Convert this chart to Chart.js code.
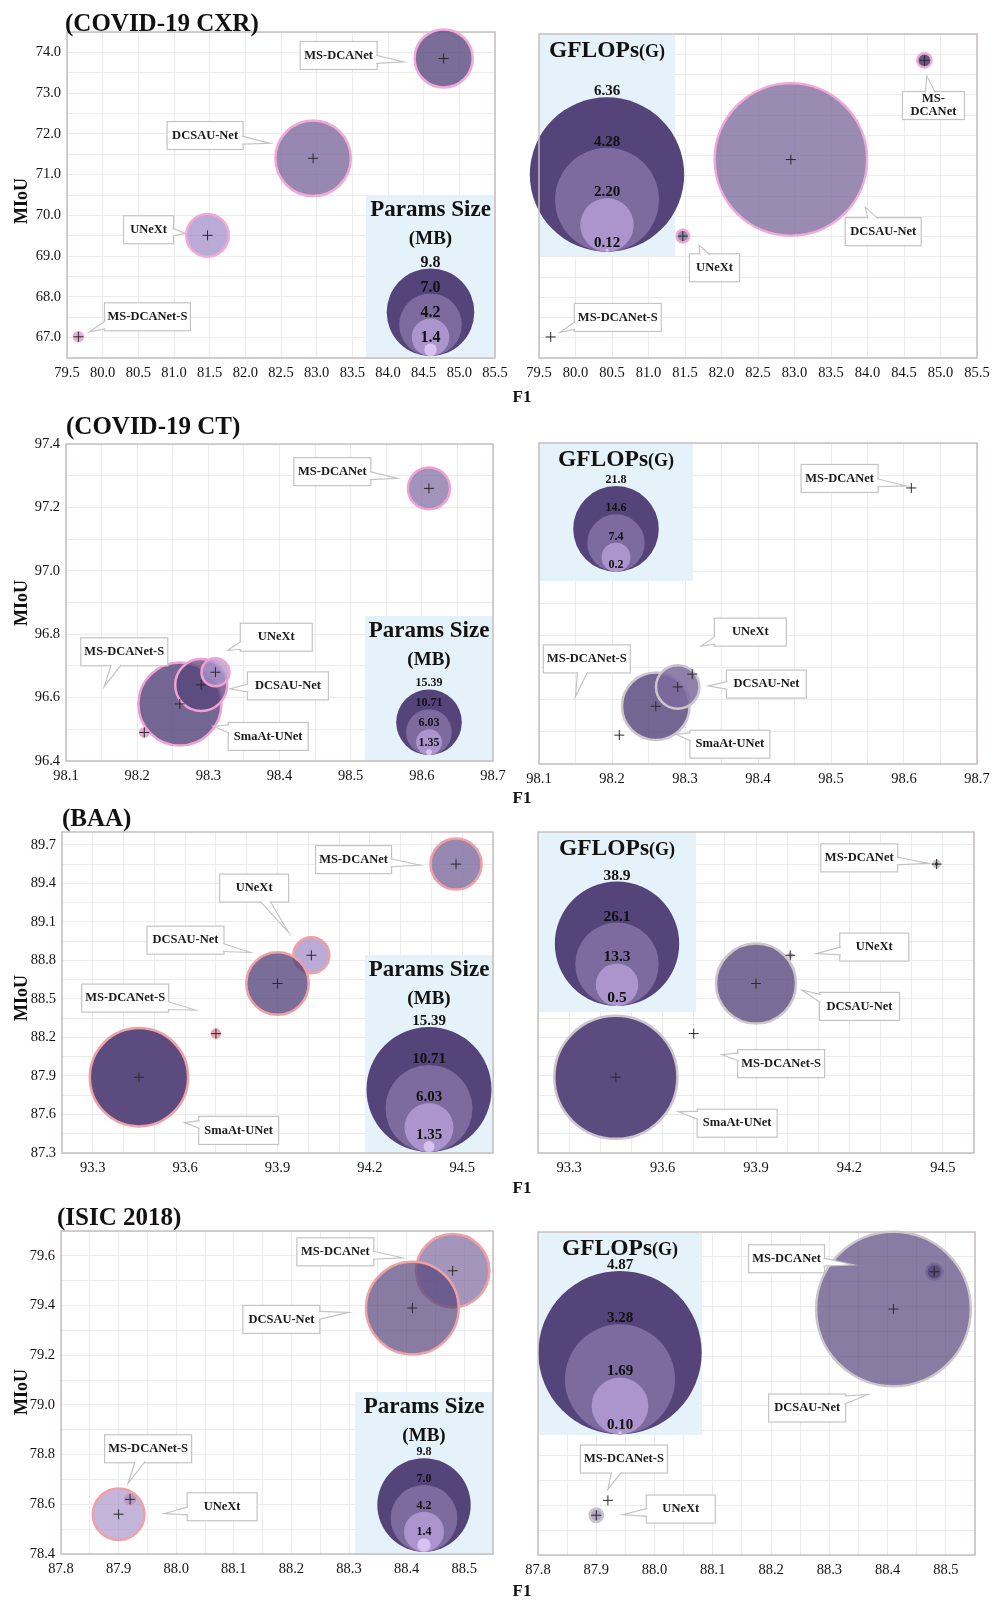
<!DOCTYPE html>
<html>
<head>
<meta charset="utf-8">
<script src="https://cdn.jsdelivr.net/npm/chart.js@4.4.1/dist/chart.umd.min.js"></script>
<style>
  body { margin: 0; background: #fff; }
  #page { position: relative; width: 1000px; height: 1600px; font-family: 'Liberation Serif', 'Times New Roman', serif; }
  canvas { position: absolute; }
  .t { position: absolute; font-weight: bold; color: #111; white-space: nowrap; line-height: 1; }
  .title { font-size: 25px; transform: translateY(-50%); }
  .miou { font-size: 18px; transform: translate(-50%, -50%) rotate(-90deg); left: 21px; }
  .f1 { font-size: 17px; transform: translate(-50%, -50%); left: 522px; }
</style>
</head>
<body>
<div id="page">
  <div class="t title" style="left:65px;top:22px">(COVID-19 CXR)</div>
  <div class="t title" style="left:66px;top:425px">(COVID-19 CT)</div>
  <div class="t title" style="left:62px;top:817px">(BAA)</div>
  <div class="t title" style="left:57px;top:1216px">(ISIC 2018)</div>
  <div class="t miou" style="top:201px">MIoU</div>
  <div class="t miou" style="top:603px">MIoU</div>
  <div class="t miou" style="top:998px">MIoU</div>
  <div class="t miou" style="top:1392px">MIoU</div>
  <div class="t f1" style="top:396px">F1</div>
  <div class="t f1" style="top:797px">F1</div>
  <div class="t f1" style="top:1187px">F1</div>
  <div class="t f1" style="top:1590px">F1</div>
</div>
<script>
// ---- COVID-19 CXR ----
const cxrModels = ['MS-DCANet', 'DCSAU-Net', 'UNeXt', 'MS-DCANet-S'];
const cxrF1 = [84.78, 82.95, 81.47, 79.66];
const cxrMIoU = [73.85, 71.40, 69.51, 67.02];
const cxrParams = [6.49, 8.44, 4.77, 1.0];
const cxrGflops = [0.59, 6.28, 0.52, 0];
const cxrParamsLegend = [9.8, 7.0, 4.2, 1.4];
const cxrGflopsLegend = [6.36, 4.28, 2.20, 0.12];
const cxrXTicks = [79.5, 80.0, 80.5, 81.0, 81.5, 82.0, 82.5, 83.0, 83.5, 84.0, 84.5, 85.0, 85.5];
const cxrYTicks = [67.0, 68.0, 69.0, 70.0, 71.0, 72.0, 73.0, 74.0];

// ---- COVID-19 CT ----
const ctModels = ['MS-DCANet', 'MS-DCANet-S', 'SmaAt-UNet', 'DCSAU-Net', 'UNeXt'];
const ctF1 = [98.61, 98.21, 98.26, 98.29, 98.31];
const ctMIoU = [97.26, 96.49, 96.58, 96.64, 96.68];
const ctParams = [9.85, 1.88, 19.47, 12.2, 6.57];
const ctGflops = [0, 0, 17.2, 11.05, 0];
const ctParamsLegend = [15.39, 10.71, 6.03, 1.35];
const ctGflopsLegend = [21.8, 14.6, 7.4, 0.2];
const ctXTicks = [98.1, 98.2, 98.3, 98.4, 98.5, 98.6, 98.7];
const ctYTicks = [96.4, 96.6, 96.8, 97.0, 97.2, 97.4];

// ---- BAA ----
const baaModels = ['MS-DCANet', 'UNeXt', 'DCSAU-Net', 'MS-DCANet-S', 'SmaAt-UNet'];
const baaF1 = [94.48, 94.01, 93.90, 93.70, 93.45];
const baaMIoU = [89.55, 88.84, 88.62, 88.23, 87.89];
const baaParams = [6.28, 4.43, 7.68, 0.98, 12.1];
const baaGflops = [1.9, 1.0, 25.0, 0, 38.5];
const baaParamsLegend = [15.39, 10.71, 6.03, 1.35];
const baaGflopsLegend = [38.9, 26.1, 13.3, 0.5];
const baaXTicks = [93.3, 93.6, 93.9, 94.2, 94.5];
const baaYTicks = [87.3, 87.6, 87.9, 88.2, 88.5, 88.8, 89.1, 89.4, 89.7];

// ---- ISIC 2018 ----
const isicModels = ['MS-DCANet', 'DCSAU-Net', 'MS-DCANet-S', 'UNeXt'];
const isicF1 = [88.48, 88.41, 87.92, 87.90];
const isicMIoU = [79.54, 79.39, 78.62, 78.56];
const isicParams = [7.7, 9.72, 1.05, 5.41];
const isicGflops = [0.48, 4.61, 0, 0.40];
const isicParamsLegend = [9.8, 7.0, 4.2, 1.4];
const isicGflopsLegend = [4.87, 3.28, 1.69, 0.10];
const isicXTicks = [87.8, 87.9, 88.0, 88.1, 88.2, 88.3, 88.4, 88.5];
const isicYTicks = [78.4, 78.6, 78.8, 79.0, 79.2, 79.4, 79.6];

const SERIF = "'Liberation Serif', 'Times New Roman', serif";
const LEGEND_FILLS = ['#55447a', '#7d6a9e', '#ab95cc', '#d8c2f2'];
const dark = a => `rgba(85,68,122,${a})`;
const mid = a => `rgba(125,106,158,${a})`;
const light = a => `rgba(171,149,204,${a})`;
const pinkDot = 'rgba(214,150,205,0.8)';

// callout: [box dx, box dy, tip dx, tip dy, box width, text override]
const panels = [
  {
    left: 0, plot: [67, 32, 495, 358], x: [79.5, 85.5, 0.5, cxrXTicks], y: [66.5, 74.5, 0.5, cxrYTicks], showY: true,
    names: cxrModels, f1: cxrF1, miou: cxrMIoU, size: cxrParams,
    colors: [dark(.78), mid(.8), light(.8), pinkDot], edge: '#f2a8d8',
    legend: { kind: 'params', values: cxrParamsLegend, box: [366, 195, 495, 358], bottom: 356, radius: 43.8, font: 16, dec: 1 },
    callouts: [[-105, -3, -40, 3.4, 77], [-108, -22.8, -43.3, -15, 76], [-59, -5.6, -22.3, -2, 50], [69, -20, 11, -5, 86]]
  },
  {
    left: 515, plot: [539, 34, 977, 358], x: [79.5, 85.5, 0.5, cxrXTicks], y: [66.5, 74.5, 0.5, cxrYTicks], showY: false,
    names: cxrModels, f1: cxrF1, miou: cxrMIoU, size: cxrGflops,
    colors: [dark(.9), mid(.78), mid(.8), mid(.8)], edge: '#f2a8d8',
    legend: { kind: 'gflops', values: cxrGflopsLegend, box: [539, 34, 675, 256], bottom: 251.7, radius: 77.2, font: 15, dec: 2 },
    callouts: [[9, 45.2, 2.4, 15.7, 62, 'MS-\nDCANet'], [92.4, 72.1, 74.4, 47.6, 76], [31.7, 31.7, 16.3, 9.3, 50], [67.1, -19.5, 9.3, -4.6, 87]]
  },
  {
    left: 0, plot: [66, 444, 493, 761], x: [98.1, 98.7, 0.05, ctXTicks], y: [96.4, 97.4, 0.1, ctYTicks], showY: true,
    names: ctModels, f1: ctF1, miou: ctMIoU, size: ctParams,
    colors: [mid(.72), pinkDot, dark(.82), dark(.75), light(.75)], edge: '#f2a0d4',
    legend: { kind: 'params', values: ctParamsLegend, box: [365, 616, 493, 761], bottom: 755, radius: 32.8, font: 12, dec: 2 },
    callouts: [[-96.6, -16.8, -31.6, -10, 77], [-20, -80.7, -40, -46, 87], [88.3, 32.5, 33.3, 22.3, 80], [86.7, 1, 28.7, 4, 81], [60.8, -35, 12.3, -22, 72]]
  },
  {
    left: 515, plot: [539, 443, 977, 764], x: [98.1, 98.7, 0.05, ctXTicks], y: [96.4, 97.4, 0.1, ctYTicks], showY: false,
    names: ctModels, f1: ctF1, miou: ctMIoU, size: ctGflops,
    colors: [dark(.8), dark(.8), dark(.82), mid(.85), mid(.8)], edge: '#cdc4cc',
    legend: { kind: 'gflops', values: ctGflopsLegend, box: [539, 443, 693, 581], bottom: 571.7, radius: 42.8, font: 12, dec: 1 },
    callouts: [[-71.7, -9.5, -5, -2, 77], [-32.5, -76.2, -44, -38, 87], [74.1, 38, 20, 28, 80], [88.7, -2.9, 30.7, -1, 80], [58, -42, 9, -28, 72]]
  },
  {
    left: 0, plot: [62, 832, 493, 1153], x: [93.2, 94.6, 0.1, baaXTicks], y: [87.3, 89.8, 0.15, baaYTicks], showY: true,
    names: baaModels, f1: baaF1, miou: baaMIoU, size: baaParams,
    colors: [mid(.8), light(.8), dark(.78), pinkDot, dark(.96)], edge: '#f0a0a4',
    legend: { kind: 'params', values: baaParamsLegend, box: [365, 955, 493, 1153], bottom: 1152, radius: 62.5, font: 15, dec: 2 },
    callouts: [[-102.5, -4.5, -36, 1, 76], [-57.2, -67.2, -22.7, -22.7, 69], [-92, -43.3, -27, -31, 77], [-90.7, -35.5, -20.7, -23.6, 87], [99.7, 53.2, 45.7, 45.4, 80]]
  },
  {
    left: 515, plot: [538, 832, 974, 1153], x: [93.2, 94.6, 0.1, baaXTicks], y: [87.3, 89.8, 0.15, baaYTicks], showY: false,
    names: baaModels, f1: baaF1, miou: baaMIoU, size: baaGflops,
    colors: [dark(.9), dark(.8), dark(.78), dark(.8), dark(.96)], edge: '#cdc4cc',
    legend: { kind: 'gflops', values: baaGflopsLegend, box: [538, 832, 696, 1012], bottom: 1006, radius: 62.2, font: 15.5, dec: 1 },
    callouts: [[-77.4, -6.2, -8.4, -0.7, 77], [84, -8.2, 26, -1.7, 69], [103.5, 22.9, 46, 6.7, 80], [87.4, 30, 28.4, 21, 87], [121.3, 46, 62.3, 34.4, 80]]
  },
  {
    left: 0, plot: [61, 1231, 493, 1554], x: [87.8, 88.55, 0.05, isicXTicks], y: [78.4, 79.7, 0.1, isicYTicks], showY: true,
    names: isicModels, f1: isicF1, miou: isicMIoU, size: isicParams,
    colors: [mid(.7), dark(.7), mid(.6), light(.7)], edge: '#f0a0a4',
    legend: { kind: 'params', values: isicParamsLegend, box: [355, 1392, 493, 1554], bottom: 1551.7, radius: 46.7, font: 12, dec: 1 },
    callouts: [[-117.3, -18.9, -50, -13, 77], [-131, 11.4, -63.4, 4.4, 77], [18, -50.6, -2, -16, 87], [103.5, -7.5, 46, -0.7, 70]]
  },
  {
    left: 515, plot: [538, 1232, 975, 1555], x: [87.8, 88.55, 0.05, isicXTicks], y: [78.4, 79.7, 0.1, isicYTicks], showY: false,
    names: isicModels, f1: isicF1, miou: isicMIoU, size: isicGflops,
    colors: [dark(.85), dark(.7), dark(.7), mid(.6)], edge: '#cdc4cc',
    legend: { kind: 'gflops', values: isicGflopsLegend, box: [538, 1232, 702, 1435], bottom: 1434.3, radius: 81.7, font: 15, dec: 2 },
    callouts: [[-147.7, -13, -80.7, -7, 76], [-86.3, 99, -25.7, 85.6, 77], [16, -41.3, 0, -11, 87], [84.5, -6.2, 26.6, -0.7, 69]]
  }
];

function axis([min, max, step, labels], showLabels, fit) {
  return {
    type: 'linear', min, max,
    afterBuildTicks: s => {
      const n = Math.floor((max - min) / step + 1e-6);
      s.ticks = Array.from({ length: n + 1 }, (_, i) => ({ value: +(min + i * step).toFixed(4) }));
    },
    afterFit: fit,
    grid: { color: '#ebebeb', lineWidth: 1, drawTicks: false },
    border: { display: false },
    ticks: {
      display: showLabels, autoSkip: false, maxRotation: 0, padding: 6, color: '#111',
      font: { family: SERIF, size: 14.5 },
      callback: v => labels.some(t => Math.abs(t - v) < step / 10) ? v.toFixed(1) : ''
    }
  };
}

function drawLegend(ctx, L, k) {
  const [x0, y0, x1, y1] = L.box;
  const cx = (x0 + x1) / 2;
  ctx.fillStyle = '#e6f2f9';
  ctx.fillRect(x0, y0, x1 - x0, y1 - y0);
  ctx.fillStyle = '#111';
  ctx.textAlign = 'center';
  ctx.textBaseline = 'middle';
  if (L.kind === 'params') {
    ctx.font = `bold 23px ${SERIF}`;
    ctx.fillText('Params Size', cx, y0 + 15);
    ctx.font = `bold 19px ${SERIF}`;
    ctx.fillText('(MB)', cx, y0 + 44);
  } else {
    ctx.font = `bold 23.5px ${SERIF}`;
    const w1 = ctx.measureText('GFLOPs').width;
    ctx.font = `bold 18px ${SERIF}`;
    const w2 = ctx.measureText('(G)').width;
    const start = cx - (w1 + w2) / 2;
    ctx.textAlign = 'left';
    ctx.font = `bold 23.5px ${SERIF}`;
    ctx.fillText('GFLOPs', start, y0 + 17);
    ctx.font = `bold 18px ${SERIF}`;
    ctx.fillText('(G)', start + w1, y0 + 18.5);
    ctx.textAlign = 'center';
  }
  L.values.forEach((v, i) => {
    const r = v * k;
    ctx.beginPath();
    ctx.arc(cx, L.bottom - r, Math.max(r, 0.5), 0, Math.PI * 2);
    ctx.fillStyle = LEGEND_FILLS[i];
    ctx.fill();
  });
  ctx.fillStyle = '#111';
  ctx.font = `bold ${L.font}px ${SERIF}`;
  L.values.forEach(v => {
    const top = L.bottom - 2 * v * k;
    ctx.fillText(v.toFixed(L.dec), cx, top - 6);
  });
}

function drawCallout(ctx, text, px, py, c) {
  const [dx, dy, tx, ty, w] = c;
  const h = 28;
  const cx = px + dx, cy = py + dy;
  const x0 = cx - w / 2, y0 = cy - h / 2;
  const tipX = px + tx, tipY = py + ty;
  const vx = tipX - cx, vy = tipY - cy;
  const clamp = (v, a, b) => Math.min(Math.max(v, a), b);
  let b1, b2;
  if (Math.abs(vx) / (w / 2) > Math.abs(vy) / (h / 2)) {
    const ex = cx + Math.sign(vx) * (w / 2 - 1);
    const ey = clamp(cy + vy * (w / 2) / Math.abs(vx), y0 + 6, y0 + h - 6);
    b1 = [ex, ey - 4]; b2 = [ex, ey + 4];
  } else {
    const ey = cy + Math.sign(vy) * (h / 2 - 1);
    const ex = clamp(cx + vx * (h / 2) / Math.abs(vy), x0 + 7, x0 + w - 7);
    b1 = [ex - 5, ey]; b2 = [ex + 5, ey];
  }
  ctx.fillStyle = '#fff';
  ctx.strokeStyle = '#c4c4c4';
  ctx.lineWidth = 1.2;
  ctx.fillRect(x0, y0, w, h);
  ctx.strokeRect(x0, y0, w, h);
  ctx.beginPath();
  ctx.moveTo(b1[0], b1[1]); ctx.lineTo(tipX, tipY); ctx.lineTo(b2[0], b2[1]);
  ctx.closePath();
  ctx.fill();
  ctx.beginPath();
  ctx.moveTo(b1[0], b1[1]); ctx.lineTo(tipX, tipY); ctx.lineTo(b2[0], b2[1]);
  ctx.stroke();
  ctx.fillStyle = '#1a1a1a';
  ctx.font = `bold 12.5px ${SERIF}`;
  ctx.textAlign = 'center';
  ctx.textBaseline = 'middle';
  const lines = text.split('\n');
  lines.forEach((ln, i) => ctx.fillText(ln, cx, cy + (i - (lines.length - 1) / 2) * 13));
}

function decor(p, ox, oy, k) {
  return {
    id: 'decor',
    beforeDatasetsDraw(chart) {
      const ctx = chart.ctx;
      const a = chart.chartArea;
      ctx.save();
      ctx.translate(-ox, -oy);
      drawLegend(ctx, p.legend, k);
      ctx.restore();
      ctx.save();
      ctx.strokeStyle = '#c6bebe';
      ctx.lineWidth = 1.5;
      ctx.strokeRect(a.left, a.top, a.right - a.left, a.bottom - a.top);
      ctx.restore();
    },
    afterDatasetsDraw(chart) {
      const ctx = chart.ctx;
      const meta = chart.getDatasetMeta(1);
      ctx.save();
      p.callouts.forEach((c, i) => {
        const el = meta.data[i];
        drawCallout(ctx, c[5] || p.names[i], el.x, el.y, c);
      });
      ctx.restore();
    }
  };
}

const page = document.getElementById('page');

panels.forEach(p => {
  const [l, t, r, b] = p.plot;
  const right = p.left === 0 ? 515 : 1000;
  const top = t - 30;
  const canvas = document.createElement('canvas');
  canvas.width = right - p.left;
  canvas.height = b + 30 - top;
  canvas.style.left = p.left + 'px';
  canvas.style.top = top + 'px';
  page.insertBefore(canvas, page.firstChild);

  const k = p.legend.radius / Math.max(...p.legend.values);

  new Chart(canvas, {
    type: 'bubble',
    data: {
      datasets: [
        {
          data: p.f1.map((x, i) => ({ x, y: p.miou[i], r: 5 })),
          pointStyle: 'cross', borderColor: '#2a2a2a', borderWidth: 1,
          backgroundColor: 'rgba(0,0,0,0)', clip: false
        },
        {
          data: p.f1.map((x, i) => ({ x, y: p.miou[i], r: p.size[i] * k })),
          backgroundColor: p.colors, borderColor: p.edge, borderWidth: 2.5, clip: false
        }
      ]
    },
    options: {
      responsive: false,
      animation: false,
      events: [],
      layout: { autoPadding: false, padding: { top: 30, right: right - r, left: 0, bottom: 0 } },
      plugins: { legend: { display: false }, tooltip: { enabled: false } },
      scales: {
        x: axis(p.x, true, s => { s.height = 30; }),
        y: axis(p.y, p.showY, s => { s.width = l - p.left; })
      }
    },
    plugins: [decor(p, p.left, top, k)]
  });
});
</script>
</body>
</html>
